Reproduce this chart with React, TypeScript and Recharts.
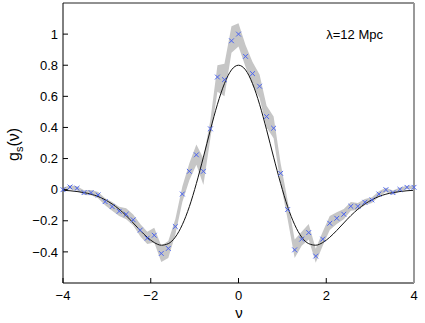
import React from "react";
import {
  ComposedChart,
  Area,
  Line,
  Scatter,
  XAxis,
  YAxis,
  ReferenceDot,
} from "recharts";

// threshold values nu, measured g_s(nu), shaded error band and the model curve
const nu = [
  -4, -3.84, -3.68, -3.52, -3.36, -3.2, -3.04, -2.88, -2.72, -2.56, -2.4, -2.24, -2.08,
  -1.92, -1.76, -1.6, -1.44, -1.28, -1.12, -0.96, -0.8, -0.64, -0.48, -0.32, -0.16, 0,
  0.16, 0.32, 0.48, 0.64, 0.8, 0.96, 1.12, 1.28, 1.44, 1.6, 1.76, 1.92, 2.08, 2.24, 2.4,
  2.56, 2.72, 2.88, 3.04, 3.2, 3.36, 3.52, 3.68, 3.84, 4,
];

const measured = [
  0.0, 0.017, 0.009, -0.019, -0.019, -0.034, -0.077, -0.109, -0.139, -0.158, -0.194, -0.26,
  -0.312, -0.293, -0.41, -0.378, -0.237, -0.028, 0.118, 0.224, 0.118, 0.391, 0.724, 0.707,
  0.957, 1.0, 0.857, 0.746, 0.665, 0.47, 0.395, 0.105, -0.128, -0.387, -0.318, -0.276,
  -0.427, -0.318, -0.216, -0.184, -0.158, -0.107, -0.107, -0.081, -0.066, -0.028, 0.0,
  -0.019, 0.002, 0.015, 0.015,
];

const bandLow = [
  -0.012, 0.002, -0.006, -0.034, -0.036, -0.055, -0.1, -0.135, -0.17, -0.19, -0.23, -0.3,
  -0.35, -0.34, -0.465, -0.44, -0.29, -0.08, 0.06, 0.16, 0.03, 0.33, 0.63, 0.6, 0.88, 0.92,
  0.79, 0.67, 0.59, 0.4, 0.33, 0.04, -0.19, -0.44, -0.36, -0.32, -0.47, -0.36, -0.26, -0.22,
  -0.19, -0.135, -0.13, -0.1, -0.085, -0.045, -0.015, -0.032, -0.01, 0.005, 0.005,
];

const bandHigh = [
  0.012, 0.028, 0.022, -0.004, -0.002, -0.015, -0.055, -0.08, -0.11, -0.12, -0.16, -0.22,
  -0.27, -0.245, -0.36, -0.33, -0.19, 0.02, 0.17, 0.29, 0.2, 0.45, 0.8, 0.81, 1.05, 1.07,
  0.93, 0.82, 0.74, 0.54, 0.47, 0.17, -0.07, -0.32, -0.27, -0.22, -0.38, -0.27, -0.17,
  -0.145, -0.125, -0.08, -0.085, -0.06, -0.048, -0.01, 0.012, -0.006, 0.014, 0.025, 0.025,
];

const model = [
  -0.004, -0.007, -0.012, -0.019, -0.029, -0.044, -0.065, -0.092, -0.126, -0.167, -0.214,
  -0.262, -0.306, -0.34, -0.357, -0.347, -0.305, -0.225, -0.109, 0.04, 0.209, 0.385, 0.549,
  0.682, 0.77, 0.8, 0.77, 0.682, 0.549, 0.385, 0.209, 0.04, -0.109, -0.225, -0.305, -0.347,
  -0.357, -0.34, -0.306, -0.262, -0.214, -0.167, -0.126, -0.092, -0.065, -0.044, -0.029,
  -0.019, -0.012, -0.007, -0.004,
];

const xTicks = [-4, -2, 0, 2, 4];
const yTicks = [-0.4, -0.2, 0, 0.2, 0.4, 0.6, 0.8, 1];

const rows = nu.map((v, i) => ({
  nu: v,
  g: measured[i],
  band: [bandLow[i], bandHigh[i]],
  model: model[i],
}));

const font = "'Liberation Sans', Arial, Helvetica, sans-serif";
const fmt = (v: number) => String(v).replace("-", "\u2212");
const tickStyle = { fill: "#000", fontSize: 13, fontFamily: font };

const Cross = (props: any) => {
  const { cx, cy } = props;
  const s = 2.4;
  return (
    <path
      d={`M${cx - s},${cy - s}L${cx + s},${cy + s}M${cx - s},${cy + s}L${cx + s},${cy - s}`}
      stroke="#4a63f0"
      strokeWidth={1}
      fill="none"
    />
  );
};

export default function App() {
  return (
    <div style={{ position: "absolute", left: 0, top: 0, width: 425, height: 323, background: "#fff" }}>
      <ComposedChart
        width={425}
        height={323}
        data={rows}
        margin={{ top: 2, right: 10, bottom: 0, left: 0 }}
      >
        <XAxis
          dataKey="nu"
          type="number"
          domain={[-4, 4]}
          ticks={xTicks}
          tickFormatter={fmt}
          tick={tickStyle}
          tickSize={-5}
          tickMargin={13}
          stroke="#000"
          height={40}
          label={{
            content: () => (
              <text x={239} y={318} textAnchor="middle" fontSize={15} fontFamily={font} fill="#000">
                ν
              </text>
            ),
          }}
        />
        <XAxis
          xAxisId="top"
          dataKey="nu"
          orientation="top"
          type="number"
          domain={[-4, 4]}
          ticks={xTicks}
          tick={false}
          tickSize={-4}
          stroke="#222"
          height={1}
        />
        <YAxis
          type="number"
          domain={[-0.6, 1.2]}
          ticks={yTicks}
          tickFormatter={fmt}
          tick={tickStyle}
          tickSize={-5}
          tickMargin={10}
          stroke="#000"
          width={63}
          label={{
            content: () => (
              <text
                x={19}
                y={161}
                transform="rotate(-90 19 161)"
                textAnchor="start"
                fontSize={16}
                fontFamily={font}
                fill="#000"
              >
                g<tspan fontSize={11} dy={4}>s</tspan>
                <tspan dy={-4}>(ν)</tspan>
              </text>
            ),
          }}
        />
        <YAxis
          yAxisId="right"
          orientation="right"
          type="number"
          domain={[-0.6, 1.2]}
          ticks={yTicks}
          tick={false}
          tickSize={-4}
          stroke="#555"
          axisLine={{ stroke: "#999", strokeWidth: 2 }}
          width={1}
        />
        <Area
          dataKey="band"
          type="linear"
          stroke="none"
          fill="#c6c6c6"
          fillOpacity={1}
          isAnimationActive={false}
        />
        <Line
          dataKey="model"
          type="monotone"
          stroke="#111"
          strokeWidth={1}
          dot={false}
          isAnimationActive={false}
        />
        {/* invisible copy that ties the framing axes (top/right) to data */}
        <Line
          xAxisId="top"
          yAxisId="right"
          dataKey="model"
          stroke="none"
          dot={false}
          activeDot={false}
          isAnimationActive={false}
        />
        <Scatter dataKey="g" shape={<Cross />} isAnimationActive={false} />
        <ReferenceDot
          x={2}
          y={0.97}
          r={0}
          label={{
            content: (p: any) => (
              <text
                x={p.viewBox?.x ?? 0}
                y={p.viewBox?.y ?? 0}
                fontSize={13}
                fontFamily={font}
                fill="#000"
              >
                λ=12 Mpc
              </text>
            ),
          }}
        />
      </ComposedChart>
    </div>
  );
}
